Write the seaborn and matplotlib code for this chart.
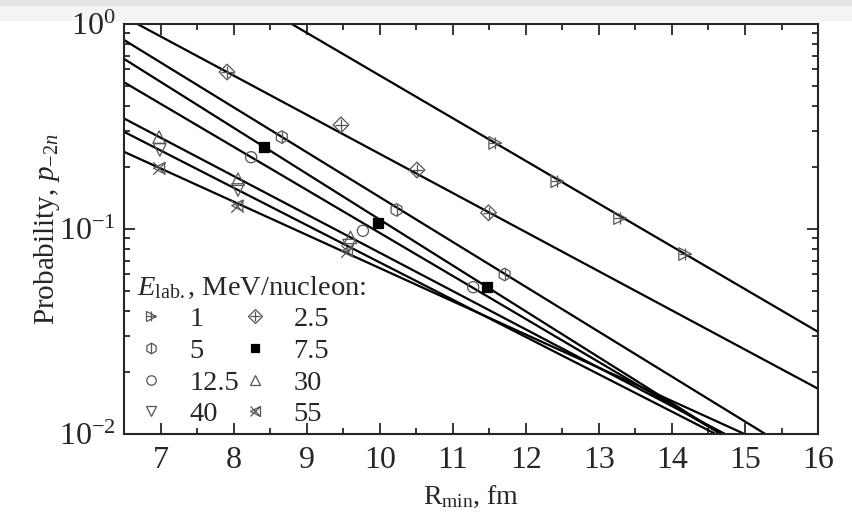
import numpy as np
import pandas as pd
import seaborn as sns
import matplotlib.pyplot as plt
from matplotlib.lines import Line2D
from matplotlib.patches import Rectangle

# energies, MeV/nucleon
energies = ["1", "2.5", "5", "7.5", "12.5", "30", "40", "55"]

# data points
r_1 = [11.58, 12.43, 13.29, 14.18]
p_1 = [0.263, 0.171, 0.113, 0.0755]
r_2_5 = [7.91, 9.47, 10.51, 11.49]
p_2_5 = [0.583, 0.322, 0.194, 0.120]
r_5 = [8.66, 10.23, 11.71]
p_5 = [0.281, 0.124, 0.060]
r_7_5 = [8.42, 9.97, 11.47]
p_7_5 = [0.251, 0.107, 0.052]
r_12_5 = [8.24, 9.77, 11.28]
p_12_5 = [0.224, 0.098, 0.052]
r_30 = [6.98, 8.06, 9.60]
p_30 = [0.281, 0.175, 0.091]
r_40 = [6.99, 8.06, 9.58]
p_40 = [0.243, 0.155, 0.083]
r_55 = [6.98, 8.05, 9.55]
p_55 = [0.198, 0.130, 0.078]

# fitted lines, value at R = 6.5 and R = 16
line_r = [6.5, 16.0]
line_p_left = [3.01, 1.084, 0.836, 0.676, 0.520, 0.346, 0.298, 0.238]
line_p_right = [0.0315, 0.01663, 0.00695, 0.00504, 0.00526, 0.00578, 0.00556, 0.00687]

pts = pd.concat([
    pd.DataFrame({"E": e, "R": r, "p": p})
    for e, r, p in zip(energies,
                       [r_1, r_2_5, r_5, r_7_5, r_12_5, r_30, r_40, r_55],
                       [p_1, p_2_5, p_5, p_7_5, p_12_5, p_30, p_40, p_55])
])

sns.set_style("ticks")
plt.rcParams["font.family"] = ["Liberation Serif", "DejaVu Serif"]
plt.rcParams["mathtext.fontset"] = "custom"
plt.rcParams["mathtext.rm"] = "Liberation Serif"
plt.rcParams["mathtext.it"] = "Liberation Serif:italic"

gray = "#555555"
# each marker is drawn as one or two overlaid symbols
styles = {
    "1": [(">", 9, "none", 0.9), ("+", 8, gray, 0.9)],
    "2.5": [("D", 8, "none", 0.9), ("+", 9, gray, 0.9)],
    "5": [("h", 9, "none", 0.9), ("|", 9, gray, 0.9)],
    "7.5": [("s", 7.5, "black", 0.9)],
    "12.5": [("o", 8, "none", 0.9)],
    "30": [("^", 9, "none", 0.9)],
    "40": [("v", 9, "none", 0.9)],
    "55": [("x", 9, gray, 0.9), ("<", 8, "none", 0.9)],
}

fig, ax = plt.subplots(figsize=(8.53, 5.22), dpi=100)
fig.subplots_adjust(left=0.1454, right=0.959, top=0.954, bottom=0.1686)

# light bar at the top of the screenshot
fig.add_artist(Rectangle((0, 0.988), 1, 0.012, transform=fig.transFigure, color="#e4e4e4", zorder=-5))
fig.add_artist(Rectangle((0, 0.962), 1, 0.026, transform=fig.transFigure, color="#f4f4f4", zorder=-5))

for i, e in enumerate(energies):
    sns.lineplot(x=line_r, y=[line_p_left[i], line_p_right[i]], color="black", lw=1.6, ax=ax, zorder=2)

handles = {}
for e in energies:
    d = pts[pts["E"] == e]
    hs = []
    for m, ms, fc, lw in styles[e]:
        ec = "black" if fc == "black" else gray
        sns.scatterplot(data=d, x="R", y="p", marker=m, s=ms ** 2, facecolor=fc,
                        edgecolor=ec, linewidth=lw, ax=ax, zorder=3)
        hs.append(Line2D([], [], ls="none", marker=m, markersize=ms * 0.85,
                         markerfacecolor=fc, markeredgecolor=ec, markeredgewidth=lw,
                         color=ec))
    handles[e] = tuple(hs)

ax.set_yscale("log")
ax.set_xlim(6.5, 16)
ax.set_ylim(0.01, 1)
ax.set_xticks(range(7, 17))
ax.set_xticks(np.arange(6.5, 16.01, 0.5), minor=True)

ax.tick_params(which="both", direction="in", top=True, right=True, width=1.3,
               labelsize=23)
ax.tick_params(axis="x", pad=9)
ax.tick_params(axis="y", pad=6)
ax.tick_params(which="major", length=8)
ax.tick_params(which="minor", length=4.5)
for s in ax.spines.values():
    s.set_linewidth(1.5)

ax.set_xlabel(r"R$_{\mathrm{min}}$, fm", fontsize=20, labelpad=6)
ax.set_ylabel(r"Probability, $p_{-2n}$", fontsize=21, labelpad=-2)

order = ["1", "5", "12.5", "40", "2.5", "7.5", "30", "55"]
leg = ax.legend([handles[k] for k in order], order, ncol=2, loc="lower left",
                bbox_to_anchor=(0.0, -0.015), frameon=False, fontsize=20.5,
                title=r"$E_{\mathrm{lab.}}$, MeV/nucleon:", title_fontsize=20.5,
                handlelength=1.0, handletextpad=0.85, columnspacing=0.05,
                labelspacing=0.2, borderaxespad=0.05)
leg._legend_box.align = "left"

fig.savefig("out.png", dpi=100)
